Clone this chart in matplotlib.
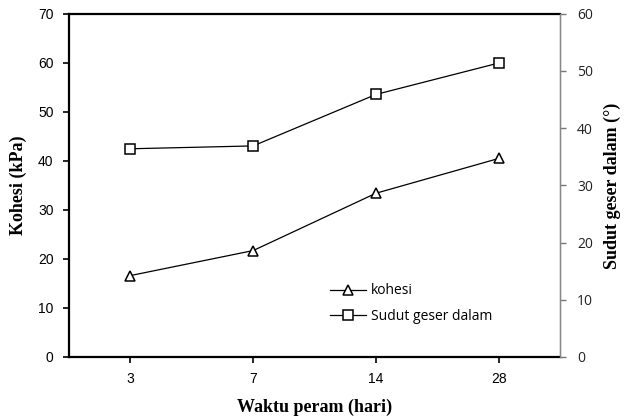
import matplotlib.pyplot as plt
import numpy as np

# data
waktu = ['3', '7', '14', '28']
kohesi = [16.6, 21.7, 33.4, 40.5]        # kPa, left axis
sudut_geser = [36.4, 36.9, 45.9, 51.4]   # degrees, right axis

serif = ['Liberation Serif', 'DejaVu Serif']
sans = ['Liberation Sans', 'DejaVu Sans']
leg_font = ['Open Sans', 'DejaVu Sans']


def execute():
    fig = plt.figure(figsize=(6.26, 4.18), dpi=100)
    ax1 = fig.add_axes([0.110, 0.146, 0.785, 0.821])
    ax2 = ax1.twinx()

    x = np.arange(len(waktu))
    l1, = ax1.plot(x, kohesi, color='black', lw=0.9, marker='^', ms=7,
                   mfc='white', mec='black', mew=1.1, label='kohesi')
    l2, = ax2.plot(x, sudut_geser, color='black', lw=0.9, marker='s', ms=7,
                   mfc='white', mec='black', mew=1.1, label='Sudut geser dalam')

    ax1.set_xlim(-0.5, 3.5)
    ax1.set_ylim(0, 70)
    ax2.set_ylim(0, 60)
    ax1.set_xticks(x)
    ax1.set_xticklabels(waktu)
    ax1.set_yticks(range(0, 71, 10))
    ax2.set_yticks(range(0, 61, 10))

    for lab in ax1.get_xticklabels() + ax1.get_yticklabels():
        lab.set_family(sans)
        lab.set_fontsize(10)
    for lab in ax2.get_yticklabels():
        lab.set_family(leg_font)
        lab.set_fontsize(10)
        lab.set_color('#222222')

    ax1.tick_params(direction='out', length=4, width=1.2, pad=7)
    ax2.tick_params(direction='out', length=4, width=1.0, color='#777777', pad=8)

    for side in ['left', 'bottom', 'top']:
        ax1.spines[side].set_linewidth(1.6)
    ax2.spines['right'].set_color('#888888')
    ax2.spines['right'].set_linewidth(1.0)
    for side in ['left', 'bottom', 'top']:
        ax2.spines[side].set_visible(False)

    ax1.set_xlabel('Waktu peram (hari)', family=serif, fontweight='bold',
                   fontsize=13, labelpad=9)
    ax1.set_ylabel('Kohesi (kPa)', family=serif, fontweight='bold',
                   fontsize=13, labelpad=8)
    ax2.set_ylabel('Sudut geser dalam (°)', family=serif, fontweight='bold',
                   fontsize=13, labelpad=8)

    ax1.legend(handles=[l1, l2], loc='lower left',
               bbox_to_anchor=(0.505, 0.06), frameon=False,
               prop={'family': leg_font, 'size': 10},
               handlelength=2.6, handletextpad=0.4, labelspacing=0.75)

    plt.savefig('out.png', dpi=100)


if __name__ == '__main__':
    execute()
